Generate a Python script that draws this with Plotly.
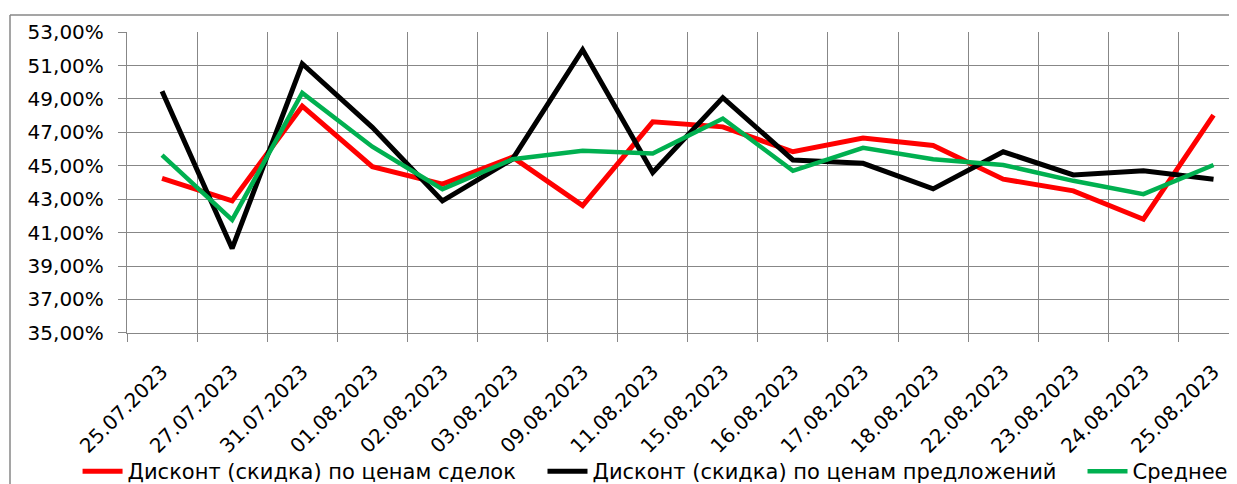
import plotly.graph_objects as go

dates = ["25.07.2023", "27.07.2023", "31.07.2023", "01.08.2023", "02.08.2023",
         "03.08.2023", "09.08.2023", "11.08.2023", "15.08.2023", "16.08.2023",
         "17.08.2023", "18.08.2023", "22.08.2023", "23.08.2023", "24.08.2023",
         "25.08.2023"]

deals = [0.4425, 0.4290, 0.4857, 0.4495, 0.4390, 0.4552, 0.4262, 0.4763,
         0.4733, 0.4584, 0.4666, 0.4622, 0.4420, 0.4350, 0.4180, 0.4803]
offers = [0.4946, 0.4005, 0.5111, 0.4730, 0.4290, 0.4540, 0.5195, 0.4460,
          0.4908, 0.4535, 0.4515, 0.4362, 0.4584, 0.4445, 0.4470, 0.4419]
average = [0.4564, 0.4176, 0.4936, 0.4614, 0.4360, 0.4539, 0.4590, 0.4574,
           0.4783, 0.4470, 0.4608, 0.4539, 0.4505, 0.4410, 0.4330, 0.4505]

names = ["Дисконт (скидка) по ценам сделок",
         "Дисконт (скидка) по ценам предложений",
         "Среднее"]

FONT = "DejaVu Sans"
GRID = "#878787"

fig = go.Figure()
fig.add_trace(go.Scatter(x=dates, y=deals, name=names[0], mode="lines",
                         legend="legend",
                         line=dict(color="#FF0000", width=5)))
fig.add_trace(go.Scatter(x=dates, y=offers, name=names[1], mode="lines",
                         legend="legend2",
                         line=dict(color="#000000", width=5)))
fig.add_trace(go.Scatter(x=dates, y=average, name=names[2], mode="lines",
                         legend="legend3",
                         line=dict(color="#00B050", width=4.5)))


def leg(xpos):
    return dict(orientation="h", xref="container", yref="container",
                x=xpos, y=0.026, xanchor="left", yanchor="middle",
                font=dict(family=FONT, size=21, color="#000000"),
                itemwidth=40, bgcolor="rgba(0,0,0,0)")


fig.update_layout(
    width=1229, height=476,
    margin=dict(l=119, r=0, t=24, b=151, autoexpand=False),
    paper_bgcolor="white", plot_bgcolor="white",
    separators=", ",
    font=dict(family=FONT, size=20, color="#000000"),
    showlegend=True,
    legend=leg(0.0566),
    legend2=leg(0.4349),
    legend3=leg(0.8743),
    xaxis=dict(type="category", range=[-0.5, 15.335], tickson="boundaries",
               automargin=False, ticklabelstandoff=18,
               showgrid=True, gridcolor=GRID, gridwidth=1.3,
               showline=True, linecolor=GRID, linewidth=1.3,
               ticks="outside", ticklen=8, tickcolor=GRID, tickwidth=1.3,
               tickangle=-45, tickfont=dict(family=FONT, size=20, color="#000000"),
               fixedrange=True),
    yaxis=dict(range=[0.3499, 0.5301], tickmode="linear", tick0=0.35, dtick=0.02,
               automargin=False, ticklabelstandoff=10,
               tickformat=".2%", showgrid=True, gridcolor=GRID, gridwidth=1.3,
               showline=True, linecolor=GRID, linewidth=1.3,
               ticks="outside", ticklen=8, tickcolor=GRID, tickwidth=1.3,
               tickfont=dict(family=FONT, size=20, color="#000000"),
               zeroline=False, fixedrange=True),
)

# outer chart frame (left and top edges visible)
fig.add_shape(type="line", xref="paper", yref="paper",
              x0=(2 - 119) / 1110, x1=(2 - 119) / 1110,
              y0=1 + (24 - 7) / 301, y1=-(476 - 325) / 301,
              line=dict(color=GRID, width=1.5))
fig.add_shape(type="line", xref="paper", yref="paper",
              x0=(2 - 119) / 1110, x1=1.0,
              y0=1 + (24 - 7) / 301, y1=1 + (24 - 7) / 301,
              line=dict(color=GRID, width=1.5))

fig.write_html("out.html")
